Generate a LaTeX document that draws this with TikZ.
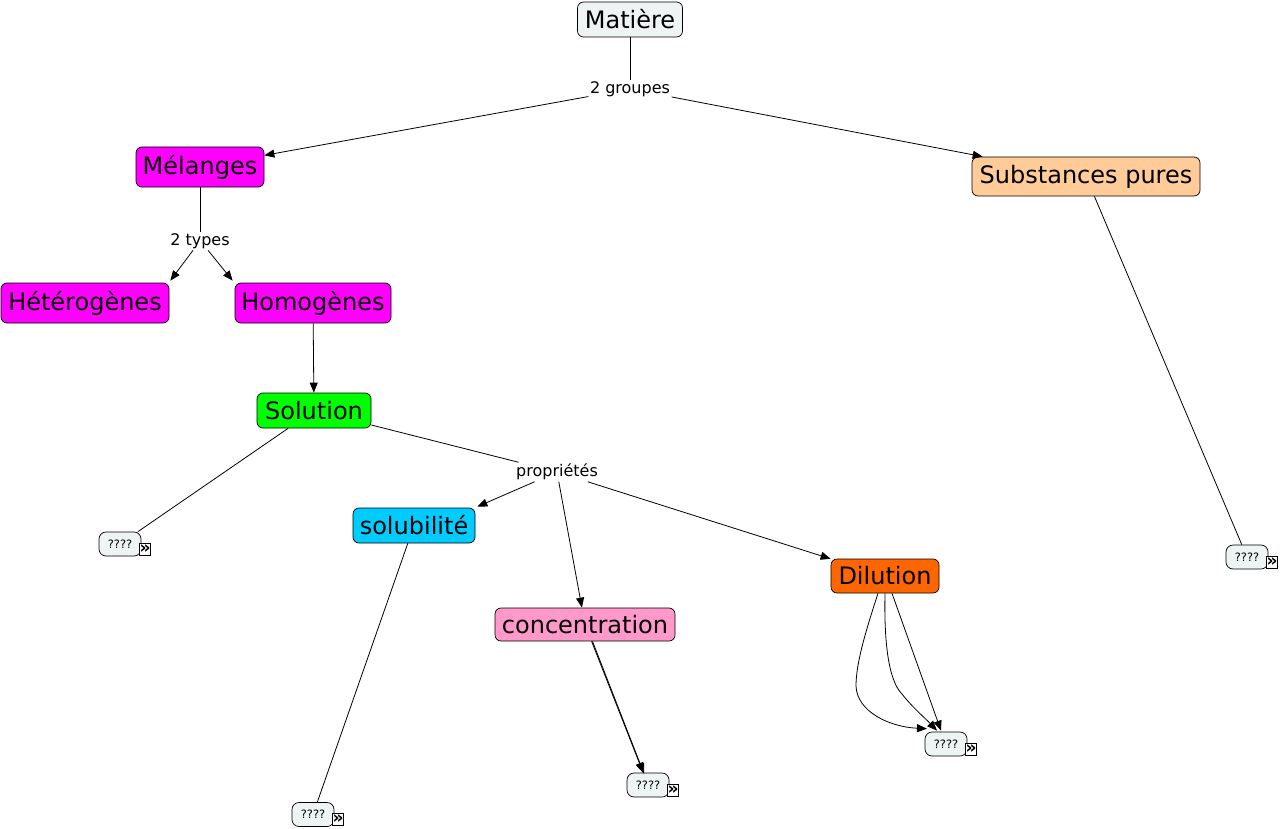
\documentclass[tikz,border=0pt]{standalone}
\usepackage{fontspec}
\setmainfont{DejaVu Sans}
\usetikzlibrary{arrows.meta}
\definecolor{pale}{HTML}{EEF4F4}
\definecolor{mag}{HTML}{FF00FF}
\definecolor{peach}{HTML}{FFCC99}
\definecolor{lime}{HTML}{00FF00}
\definecolor{sky}{HTML}{00CCFF}
\definecolor{pinkc}{HTML}{FF99CC}
\definecolor{orangec}{HTML}{FF6600}
\tikzset{
  concept/.style={draw=black, line width=0.7pt, rounded corners=6pt, inner sep=0pt,
    font=\fontsize{24}{28}\selectfont, text=black},
  small/.style={draw=black, line width=0.7pt, rounded corners=7pt, inner sep=0pt,
    fill=pale, minimum width=42pt, minimum height=24pt, font=\fontsize{11.5}{13}\selectfont},
  lbl/.style={fill=white, inner sep=1.5pt, font=\fontsize{16}{19}\selectfont},
  icon/.style={draw=black, line width=0.7pt, fill=white, inner sep=0pt, minimum width=11pt,
    minimum height=12pt, font=\fontsize{17}{17}\selectfont\bfseries, anchor=south west},
  conn/.style={line width=0.8pt, draw=black},
  arr/.style={conn, -{Triangle[length=10pt,width=8pt]}},
}
\begin{document}
\begin{tikzpicture}[x=1pt,y=-1pt]
\useasboundingbox[fill=white] (0,0) rectangle (1281,829);

% concepts
\node[concept, fill=pale, minimum width=105pt, minimum height=35pt] (mat) at (630,19.5) {Matière};
\node[concept, fill=mag, minimum width=128pt, minimum height=40pt] (mel) at (200,167) {Mélanges};
\node[concept, fill=peach, minimum width=228pt, minimum height=39pt] (sub) at (1086,176.5) {Substances pures};
\node[concept, fill=mag, minimum width=168pt, minimum height=40pt] (het) at (85,303) {Hétérogènes};
\node[concept, fill=mag, minimum width=156pt, minimum height=40pt] (hom) at (313,303) {Homogènes};
\node[concept, fill=lime, minimum width=114pt, minimum height=35pt] (sol) at (314,410.5) {Solution};
\node[concept, fill=sky, minimum width=122pt, minimum height=35pt] (slb) at (414,525.5) {solubilité};
\node[concept, fill=pinkc, minimum width=180pt, minimum height=33pt] (con) at (585,624.5) {concentration};
\node[concept, fill=orangec, minimum width=108pt, minimum height=34pt] (dil) at (885,576) {Dilution};

% small nodes
\node[small] (q1) at (120,544) {????};
\node[small] (q2) at (313,814.5) {????};
\node[small] (q3) at (648,785) {????};
\node[small] (q4) at (946,744) {????};
\node[small] (q5) at (1247,557) {????};
\foreach \q in {q1,q2,q3,q4,q5}{
  \node[icon] (i\q) at ([xshift=-2pt,yshift=1pt]\q.south east) {»};
}

% linking labels
\node[lbl] (grp) at (630,89) {2 groupes};
\node[lbl] (typ) at (200,241) {2 types};
\node[lbl] (pro) at (557,472) {propriétés};

% connectors
\draw[conn] (mat) -- (grp);
\draw[arr] (grp) -- (mel);
\draw[arr] (grp) -- (sub);
\draw[conn] (mel) -- (typ);
\draw[arr] ([xshift=-7pt]typ.south) -- ([xshift=1pt,yshift=2pt]het.north east);
\draw[arr] ([xshift=8pt]typ.south) -- ([xshift=-2pt,yshift=2pt]hom.north west);
\draw[arr] (hom) -- (sol);
\draw[conn] (sol) -- (q1);
\draw[conn] (sol) -- (pro);
\draw[arr] (pro) -- ([xshift=2pt,yshift=1pt]slb.north east);
\draw[arr] (pro) -- (con);
\draw[arr] (pro) -- (dil);
\draw[conn] (slb) -- (q2);
\draw[arr] (con) -- (q3);
\draw[arr] ([xshift=7.5pt]con.south) -- ([xshift=-4pt,yshift=-1pt]q3.north);
\draw[conn] (sub) -- (q5);
\draw[arr] ([xshift=-7pt]dil.south) .. controls (864,636) and (856,665) .. (856,686)
   .. controls (857,712) and (890,727) .. ([xshift=-19pt,yshift=3pt]q4.north);
\draw[arr] (dil.south) .. controls (884,640) and (888,680) .. (902,694)
   .. controls (912,707) and (925,718) .. ([xshift=-9pt,yshift=1pt]q4.north);
\draw[arr] ([xshift=7pt]dil.south) -- ([xshift=-5pt,yshift=1pt]q4.north);
\end{tikzpicture}
\end{document}
